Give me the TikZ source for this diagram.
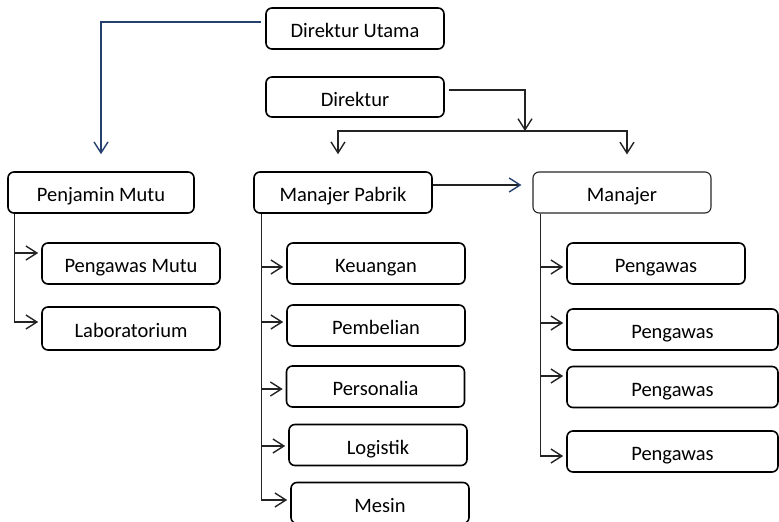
\documentclass[tikz,border=0pt]{standalone}
\usepackage{fontspec}
\setmainfont{Carlito}
\usetikzlibrary{arrows.meta,calc}
\definecolor{ChartNavy}{RGB}{38,64,110}
\definecolor{EdgeGrey}{RGB}{35,35,35}

\begin{document}
\begin{tikzpicture}[x=1pt,y=-1pt,>={Straight Barb[length=11pt,width=14pt]},
  unit/.style={draw,rounded corners=6pt,line width=1.6pt,minimum width=178pt,minimum height=41pt,inner sep=0pt,text height=18pt,text depth=0pt,font=\fontsize{20.5}{24}\selectfont},
  link/.style={->,line width=1.4pt,EdgeGrey}]
\clip (0,0) rectangle (779,522);
% pimpinan
\node[unit] (dirut) at (355,28.5) {Direktur Utama};
\node[unit,minimum height=40pt] (dir) at (355,97) {Direktur};
\node[unit,minimum width=186pt] (penjamin) at (101,192.5) {Penjamin Mutu};
\node[unit] (mpabrik) at (343,192.5) {Manajer Pabrik};
\node[unit,line width=1.1pt,draw=black!85] (manajer) at (622,192.5) {Manajer};
% bagian
\node[unit] (pmutu) at (131,263.5) {Pengawas Mutu};
\node[unit,minimum height=43pt] (lab) at (131,328.5) {Laboratorium};
\foreach \nm/\lab/\x/\y in {keu/Keuangan/376/263.5,pemb/Pembelian/376/325.5,pers/Personalia/375.5/386.5,logi/Logistik/378/445,mesin/Mesin/380/503}
  {\node[unit] (\nm) at (\x,\y) {\lab};}
\node[unit] (pg1) at (656,263.5) {Pengawas};
\foreach \nm/\y in {pg2/329.5,pg3/387,pg4/451.5}
  {\node[unit,minimum width=211pt] (\nm) at (672.5,\y) {Pengawas};}
% garis atas
\coordinate (tipP) at ($(penjamin.north)+(0,-17)$);
\coordinate (tipL) at ($(mpabrik.north)+(-5,-17)$);
\coordinate (tipR) at ($(manajer.north)+(5,-17)$);
\coordinate (hub) at (525,131);
\draw[link,ChartNavy] ([xshift=-4pt,yshift=6.5pt]dirut.west) -| (tipP);
\draw[link] ([xshift=4pt,yshift=7pt]dir.east) -| (hub);
\draw[link] (hub) -| (tipL);
\draw[link] (hub) -| (tipR);
\draw[line width=1.4pt,EdgeGrey,-{Straight Barb[length=11pt,width=14pt,color=ChartNavy]}] ([yshift=7.5pt]mpabrik.east) -- ([xshift=-11pt,yshift=7.5pt]manajer.west);
% garis bagian
\foreach \nm/\dy in {pmutu/-10.5,lab/-6.5}
  {\draw[link] ($(penjamin.south west)+(7,0)$) |- ($(\nm.west)+(-3,\dy)$);}
\foreach \nm/\dy in {keu/3.5,pemb/-3.5,pers/2.5,logi/1,mesin/-3}
  {\draw[link] ($(mpabrik.south west)+(8,0)$) |- ($(\nm.west)+(-3,\dy)$);}
\foreach \nm/\dy in {pg1/3.5,pg2/-6.5,pg3/-11,pg4/4.5}
  {\draw[link] ($(manajer.south west)+(8,0)$) |- ($(\nm.west)+(-3,\dy)$);}
\end{tikzpicture}
\end{document}
